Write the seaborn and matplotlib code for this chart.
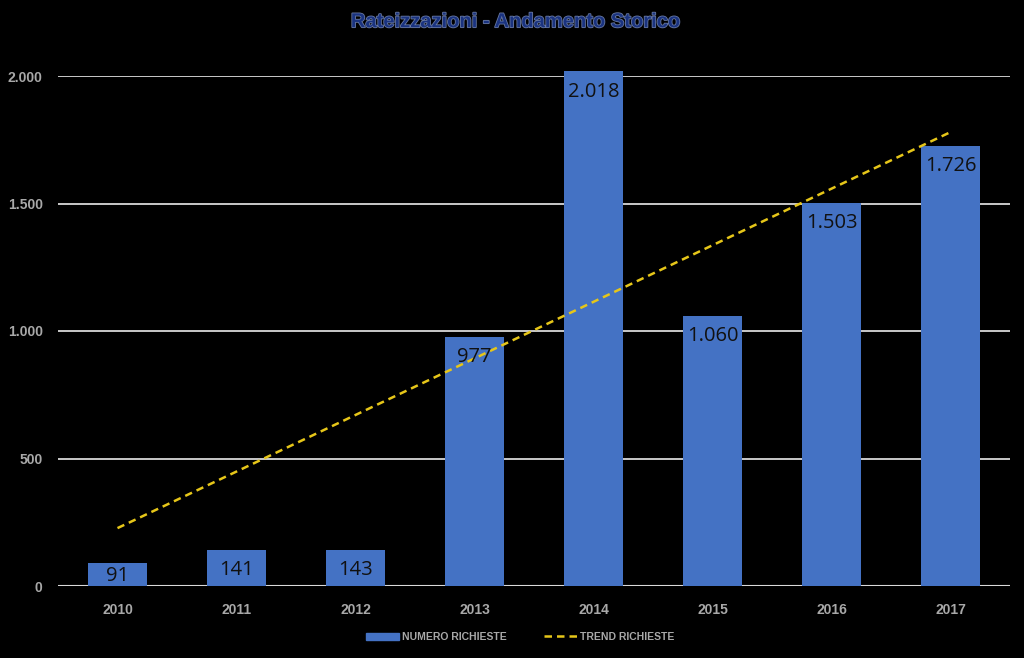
import matplotlib
matplotlib.use("Agg")
import matplotlib.pyplot as plt
import matplotlib.patheffects as pe
from matplotlib.lines import Line2D
from matplotlib.patches import Patch
import seaborn as sns
import pandas as pd

years = ["2010", "2011", "2012", "2013", "2014", "2015", "2016", "2017"]
richieste = [91, 141, 143, 977, 2018, 1060, 1503, 1726]
value_labels = ["91", "141", "143", "977", "2.018", "1.060", "1.503", "1.726"]
trend_years = ["2010", "2017"]
trend_values = [227, 1780]
y_ticks = [0, 500, 1000, 1500, 2000]
y_tick_labels = ["0", "500", "1.000", "1.500", "2.000"]

sns.set_theme(style="dark")
plt.rcParams['font.family'] = ['Liberation Sans', 'DejaVu Sans']

BG = "#000000"
BAR = "#4472C4"
TREND = "#E6C619"
TICK = "#A8A8A8"

fig = plt.figure(figsize=(10.24, 6.58), dpi=100, facecolor=BG)
ax = fig.add_axes([58/1024, 1 - 586/658, 952/1024, 510/658])
ax.set_facecolor(BG)

df = pd.DataFrame({"anno": years, "richieste": richieste})
sns.barplot(data=df, x="anno", y="richieste", color=BAR, saturation=1,
            width=0.5, ax=ax, zorder=3, linewidth=0, edgecolor=BAR)
for p in ax.patches:
    p.set_clip_on(False)
    p.set_linewidth(0)

pos = [years.index(y) for y in trend_years]
sns.lineplot(x=pos, y=trend_values, ax=ax, color=TREND, linestyle=(0, (3, 2)),
             linewidth=1.8, zorder=4)

for i, (v, lab) in enumerate(zip(richieste, value_labels)):
    off = -7.5 if v > 120 else -2.5
    ax.annotate(lab, (i, v), xytext=(0, off), textcoords="offset points",
                ha="center", va="top", fontsize=14.5, color="#111111",
                family=["Open Sans", "DejaVu Sans"], zorder=5, annotation_clip=False)

ax.set_xlim(-0.5, 7.5)
ax.set_ylim(0, 2000)
ax.set_yticks(y_ticks)
ax.set_yticklabels(y_tick_labels)
ax.yaxis.grid(True, color="#D9D9D9", linewidth=1.3, zorder=0)
ax.xaxis.grid(False)
ax.set_axisbelow(True)
for s in ax.spines.values():
    s.set_visible(False)
ax.tick_params(axis="both", length=0, colors=TICK, labelsize=10, pad=12)
for t in ax.get_xticklabels() + ax.get_yticklabels():
    t.set_fontweight("bold")
    t.set_color(TICK)
ax.tick_params(axis="y", pad=11)
ax.set_xlabel("")
ax.set_ylabel("")
ax.axhline(0, color="#D9D9D9", linewidth=1.5, zorder=2)

fig.text(0.503, 0.967, "Rateizzazioni - Andamento Storico", ha="center", va="center",
         fontsize=14.5, fontweight="bold", color="#1A3380",
         path_effects=[pe.withStroke(linewidth=1.2, foreground="#6878A0")])

handles = [Patch(facecolor=BAR, edgecolor=BAR),
           Line2D([0], [0], color=TREND, linestyle=(0, (3, 2)), linewidth=1.8)]
leg = fig.legend(handles, ["NUMERO RICHIESTE", "TREND RICHIESTE"],
                 loc="center", bbox_to_anchor=(0.508, 0.032), ncol=2, frameon=False,
                 fontsize=7.5, handlelength=3.2, handleheight=0.6, columnspacing=3.5,
                 handletextpad=0.3)
for t in leg.get_texts():
    t.set_color(TICK)
    t.set_fontweight("bold")

fig.savefig("out.png", dpi=100, facecolor=BG)
